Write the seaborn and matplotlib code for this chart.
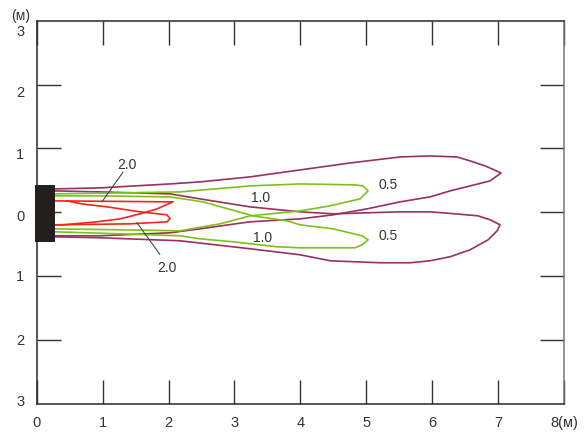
import matplotlib
matplotlib.use("Agg")
import matplotlib.pyplot as plt
import seaborn as sns
import pandas as pd
from matplotlib.patches import Rectangle

# ---------------- data (metres) ----------------
purple_upper_x = [0.278, 0.961, 2.023, 2.478, 3.237, 3.996, 4.754, 5.512, 5.968, 6.378, 6.576, 6.803, 7.045,
                  6.879, 6.576, 6.272, 5.968, 5.512, 5.012, 4.496, 3.996, 3.237, 2.478, 2.023, 0.961, 0.278]
purple_upper_y = [0.367, 0.383, 0.445, 0.477, 0.555, 0.664, 0.773, 0.867, 0.883, 0.867, 0.805, 0.727, 0.617,
                  0.492, 0.414, 0.336, 0.242, 0.164, 0.055, -0.039, -0.102, -0.148, -0.258, -0.320, -0.367, -0.367]
purple_lower_x = [0.278, 0.961, 2.174, 3.237, 3.996, 4.451, 5.209, 5.665, 5.968, 6.272, 6.576, 6.848, 6.985, 7.030,
                  6.879, 6.697, 6.348, 5.968, 5.512, 4.496, 3.996, 3.237, 2.478, 2.023, 0.961, 0.278]
purple_lower_y = [-0.383, -0.398, -0.445, -0.570, -0.664, -0.758, -0.789, -0.789, -0.758, -0.695, -0.586, -0.430, -0.289, -0.195,
                  -0.117, -0.055, -0.023, 0.008, 0.008, -0.023, 0.008, 0.086, 0.211, 0.289, 0.320, 0.336]
green_upper_x = [0.278, 1.264, 2.174, 3.237, 3.996, 4.830, 4.951, 5.027, 4.906, 4.451, 3.996, 3.237, 2.781, 2.174, 1.264, 0.278]
green_upper_y = [0.289, 0.305, 0.320, 0.414, 0.445, 0.430, 0.414, 0.336, 0.211, 0.102, 0.023, -0.055, -0.180, -0.289, -0.273, -0.258]
green_lower_x = [0.278, 1.264, 2.174, 2.478, 2.979, 3.646, 3.996, 4.830, 4.936, 5.027, 4.936, 4.496, 3.996, 3.798, 3.282, 2.523, 2.023, 0.961, 0.278]
green_lower_y = [-0.305, -0.336, -0.367, -0.414, -0.461, -0.539, -0.555, -0.555, -0.508, -0.430, -0.367, -0.258, -0.195, -0.133, -0.055, 0.164, 0.242, 0.258, 0.258]
green_stub_x = [-0.03, -0.03]
green_stub_y = [0.10, 0.0]
red_upper_x = [0.278, 2.068, 1.826, 1.568, 1.264, 0.915, 0.399, 0.278]
red_upper_y = [0.180, 0.164, 0.055, -0.023, -0.102, -0.148, -0.195, -0.195]
red_lower_x = [0.45, 0.70, 1.067, 1.568, 1.977, 2.023, 1.977, 1.416, 0.278]
red_lower_y = [0.180, 0.13, 0.086, 0.008, -0.039, -0.100, -0.148, -0.180, -0.195]

levels = ["0.5", "1.0", "2.0"]
level_colors = {"0.5": "#9b2f60", "1.0": "#80c01c", "2.0": "#f0261c"}

x_ticks = [0, 1, 2, 3, 4, 5, 6, 7, 8]
x_tick_labels = ["0", "1", "2", "3", "4", "5", "6", "7", "8(м)"]
y_tick_values = [3, 2, 1, 0, -1, -2, -3]
y_tick_labels = ["3", "2", "1", "0", "1", "2", "3"]

# source outlet (black block)
src_x0, src_x1 = -0.026, 0.278
src_y0, src_y1 = -0.46, 0.43

segments = [
    ("p_up", "0.5", purple_upper_x, purple_upper_y),
    ("p_lo", "0.5", purple_lower_x, purple_lower_y),
    ("g_up", "1.0", green_upper_x, green_upper_y),
    ("g_lo", "1.0", green_lower_x, green_lower_y),
    ("g_st", "1.0", green_stub_x, green_stub_y),
    ("r_up", "2.0", red_upper_x, red_upper_y),
    ("r_lo", "2.0", red_lower_x, red_lower_y),
]
rows = []
for seg, lev, xs, ys in segments:
    for i, (xv, yv) in enumerate(zip(xs, ys)):
        rows.append({"seg": seg, "level": lev, "order": i, "x": xv, "y": yv})
df = pd.DataFrame(rows)

# ---------------- plotting ----------------
sns.set_theme(style="ticks")
plt.rcParams["font.family"] = ["Liberation Sans", "DejaVu Sans"]
text_color = "#333333"

fig = plt.figure(figsize=(5.84, 4.35), dpi=100)
ax = fig.add_axes([36.7 / 584, 1 - 405 / 435, (564 - 36.7) / 584, (405 - 21.7) / 435])

sns.lineplot(data=df, x="x", y="y", hue="level", units="seg", estimator=None, sort=False,
             palette=level_colors, hue_order=levels, linewidth=1.2, legend=False, ax=ax, zorder=3)

ax.add_patch(Rectangle((src_x0, src_y0), src_x1 - src_x0, src_y1 - src_y0,
                       facecolor="#231f1c", edgecolor="none", zorder=6, clip_on=False))

ax.set_xlim(0, 8)
ax.set_ylim(-3, 3)
ax.set_xlabel("")
ax.set_ylabel("")

ax.set_xticks(x_ticks)
ax.set_xticklabels(x_tick_labels)
ax.set_yticks([-2, -1, 0, 1, 2])
ax.set_yticklabels([])
ax.tick_params(axis="both", direction="in", length=17, width=1.0, colors="#333333",
               top=True, right=True, labelsize=10.5, labelcolor=text_color)
ax.tick_params(axis="x", pad=8)

for side in ["left", "bottom", "top"]:
    ax.spines[side].set_color("#2a2a2a")
    ax.spines[side].set_linewidth(1.1)
ax.spines["right"].set_color("#777777")
ax.spines["right"].set_linewidth(1.1)

# y labels (absolute distances)
y_label_offsets = [-0.16, -0.12, -0.09, -0.06, 0.0, 0.0, 0.05]
for v, lab, off in zip(y_tick_values, y_tick_labels, y_label_offsets):
    ax.text(-0.25, v + off, lab, ha="center", va="center", fontsize=10.5,
            color=text_color, clip_on=False)
ax.text(-0.25, 3.09, "(м)", ha="center", va="center", fontsize=10, color=text_color, clip_on=False)

# contour labels
ax.text(1.37, 0.76, "2.0", ha="center", va="center", fontsize=10, color=text_color)
ax.plot([1.31, 0.99], [0.63, 0.164], color="#333333", lw=0.7, zorder=4)
ax.text(1.98, -0.85, "2.0", ha="center", va="center", fontsize=10, color=text_color)
ax.plot([1.87, 1.52], [-0.66, -0.16], color="#333333", lw=0.7, zorder=4)
ax.text(3.40, 0.24, "1.0", ha="center", va="center", fontsize=10, color=text_color)
ax.text(3.43, -0.38, "1.0", ha="center", va="center", fontsize=10, color=text_color)
ax.text(5.33, 0.445, "0.5", ha="center", va="center", fontsize=10, color=text_color)
ax.text(5.33, -0.35, "0.5", ha="center", va="center", fontsize=10, color=text_color)

fig.savefig("out.png", dpi=100)
